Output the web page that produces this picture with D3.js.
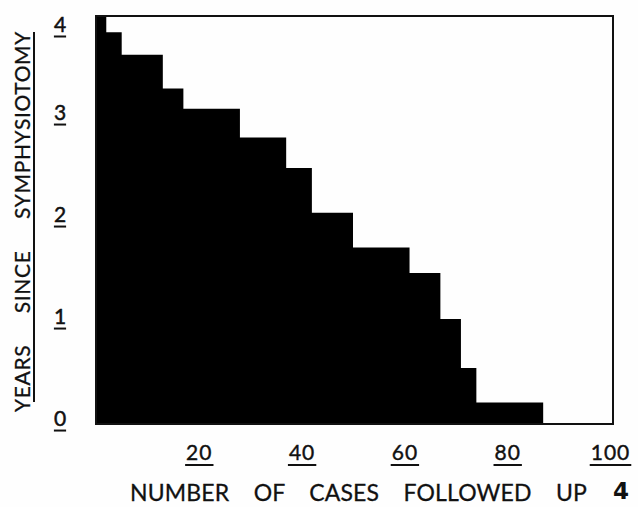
<!DOCTYPE html>
<html>
<head>
<meta charset="utf-8">
<script src="https://cdn.jsdelivr.net/npm/d3@7/dist/d3.min.js"></script>
<style>
  html, body { margin: 0; padding: 0; background: #fefefe; }
  svg { display: block; }
</style>
</head>
<body>
<script>
// Step boundaries (number of cases followed up) and years reached
const caseStarts = [0, 2, 5, 13, 17, 28, 37, 42, 50, 61, 67, 71, 74];
const caseEnd = 87;
const yearsValues = [4.0, 3.84, 3.62, 3.29, 3.09, 2.81, 2.51, 2.07, 1.73, 1.48, 1.03, 0.55, 0.21];
const xTicks = [20, 40, 60, 80, 100];
const yTicks = [0, 1, 2, 3, 4];
const xTitle = "NUMBER OF CASES FOLLOWED UP";
const yTitle = "YEARS SINCE SYMPHYSIOTOMY";
const figLabel = "4";

const W = 638, H = 507;
const svg = d3.select("body").append("svg").attr("width", W).attr("height", H);

const x = d3.scaleLinear().domain([0, 100]).range([96, 610]);
const y = d3.scaleLinear().domain([0, 4]).range([424, 16]);
const font = "Lato, 'DejaVu Sans', sans-serif";
const ink = "#111";

// data points for step area
const pts = caseStarts.map((c, i) => ({ c, v: yearsValues[i] }));
pts.push({ c: caseEnd, v: yearsValues[yearsValues.length - 1] });

const area = d3.area()
  .curve(d3.curveStepAfter)
  .x(d => x(d.c))
  .y0(y(0))
  .y1(d => y(d.v));

svg.append("path").datum(pts).attr("d", area).attr("fill", "#000");

// frame
svg.append("rect")
  .attr("x", x(0)).attr("y", y(4))
  .attr("width", x(100) + 3 - x(0)).attr("height", y(0) - y(4))
  .attr("fill", "none").attr("stroke", ink).attr("stroke-width", 2);

// x axis
const xAxis = svg.append("g").attr("transform", `translate(0,${y(0)})`)
  .call(d3.axisBottom(x).tickValues(xTicks).tickSize(0).tickPadding(36).tickFormat(d3.format("d")));
xAxis.select(".domain").remove();
xAxis.selectAll("text").attr("font-family", font).attr("font-size", 21)
  .attr("fill", ink).attr("stroke", ink).attr("stroke-width", 0.4)
  .attr("dy", 0).attr("letter-spacing", 1);
xAxis.selectAll(".tick").each(function () {
  const t = d3.select(this).select("text");
  const bb = t.node().getBBox();
  d3.select(this).append("line")
    .attr("x1", bb.x - 1).attr("x2", bb.x + bb.width + 1)
    .attr("y1", 41).attr("y2", 41)
    .attr("stroke", ink).attr("stroke-width", 2);
});

// y axis
const yAxis = svg.append("g").attr("transform", `translate(${x(0)},0)`)
  .call(d3.axisLeft(y).tickValues(yTicks).tickSize(0).tickPadding(30).tickFormat(d3.format("d")));
yAxis.select(".domain").remove();
yAxis.selectAll("text").attr("font-family", font).attr("font-size", 21)
  .attr("fill", ink).attr("stroke", ink).attr("stroke-width", 0.5)
  .attr("text-anchor", "middle").attr("x", -36).attr("dy", "0.05em");
yAxis.selectAll(".tick").each(function () {
  const t = d3.select(this).select("text");
  const tickY = y(d3.select(this).datum());
  let bb = t.node().getBBox();
  // keep the top label inside the picture
  if (tickY + bb.y < 10) {
    t.attr("y", 10 - (tickY + bb.y));
    bb = t.node().getBBox();
  }
  d3.select(this).append("line")
    .attr("x1", bb.x).attr("x2", bb.x + bb.width)
    .attr("y1", bb.y + bb.height + 1).attr("y2", bb.y + bb.height + 1)
    .attr("stroke", ink).attr("stroke-width", 2);
});

// helper: fit glyphs to target word width, then gaps to target total width
function fitText(textSel, wordTarget, totalTarget) {
  const str = textSel.text();
  const compact = str.replace(/ /g, "");
  const words = str.split(" ").length;
  textSel.text(compact);
  const natural = textSel.node().getComputedTextLength();
  const ls = (wordTarget - natural) / compact.length;
  textSel.text(str).attr("letter-spacing", ls);
  const full = textSel.node().getComputedTextLength();
  const extra = (totalTarget - full) / (words - 1);
  textSel.attr("word-spacing", extra);
}

// x title
const xt = svg.append("text")
  .attr("x", 130).attr("y", 501)
  .attr("font-family", font).attr("font-size", 23)
  .attr("fill", ink).attr("stroke", ink).attr("stroke-width", 0.3)
  .text(xTitle);
fitText(xt, 360, 457);

// figure number
svg.append("text")
  .attr("x", 629).attr("y", 499).attr("text-anchor", "end")
  .attr("font-family", "'DejaVu Sans', sans-serif").attr("font-weight", "bold")
  .attr("font-size", 23).attr("fill", ink)
  .text(figLabel);

// y title (rotated)
const ytG = svg.append("g").attr("transform", "translate(30,412) rotate(-90)");
const yt = ytG.append("text").attr("x", 0).attr("y", 0)
  .attr("font-family", font).attr("font-size", 21)
  .attr("fill", ink).attr("stroke", ink).attr("stroke-width", 0.3)
  .text(yTitle);
fitText(yt, 318, 381);
ytG.append("line").attr("x1", 10).attr("x2", 380).attr("y1", 4).attr("y2", 4)
  .attr("stroke", ink).attr("stroke-width", 2);
</script>
</body>
</html>
